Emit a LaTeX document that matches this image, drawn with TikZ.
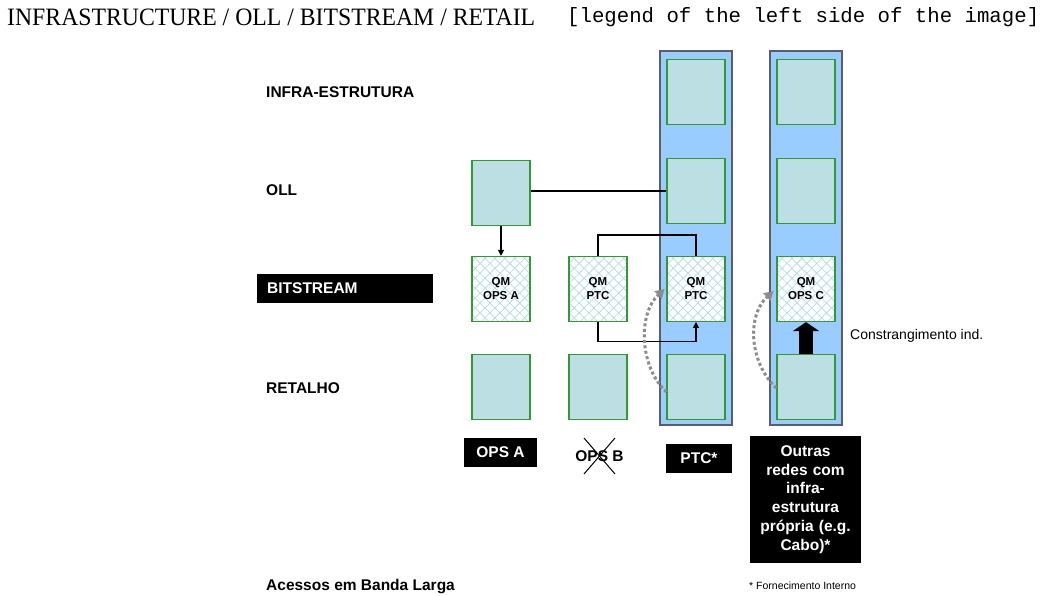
\documentclass[tikz,border=0pt]{standalone}
\usepackage{fontspec}
\setmainfont{Liberation Sans}
\newfontfamily\headfont{Liberation Serif}
\newfontfamily\notefont{Liberation Mono}
\usetikzlibrary{arrows.meta, patterns.meta}
\definecolor{barblue}{HTML}{99CCFF}
\definecolor{barline}{HTML}{5A5F66}
\definecolor{boxfill}{HTML}{BBDFE3}
\definecolor{boxline}{HTML}{339933}
\definecolor{hatch}{HTML}{B8DDE6}
\definecolor{dotgray}{HTML}{8C8C8C}

\begin{document}
\begin{tikzpicture}[x=1pt, y=-1pt,
  sq/.style={rectangle, draw=boxline, line width=1.2pt, minimum width=58pt, minimum height=65pt, inner sep=0pt, align=center, font=\fontsize{11.5}{14}\selectfont\bfseries},
  box/.style={sq, fill=boxfill},
  qm/.style={sq, preaction={fill=white}, preaction={pattern={Lines[angle=45,distance=7pt,line width=0.8pt]}, pattern color=hatch}, pattern={Lines[angle=-45,distance=7pt,line width=0.8pt]}, pattern color=hatch},
  bar/.style={rectangle, draw=barline, line width=1.3pt, fill=barblue, minimum width=72pt, minimum height=374pt, inner sep=0pt},
  lbl/.style={anchor=west, inner sep=0pt, font=\fontsize{15.5}{18}\selectfont\bfseries},
  blk/.style={fill=black, text=white, inner sep=0pt, align=center, font=\fontsize{15.5}{18.8}\selectfont\bfseries},
  conn/.style={line width=1.2pt},
  arr/.style={conn, -{Triangle[width=6pt,length=6pt]}},
  dotarr/.style={draw=dotgray, line width=3pt, dash pattern=on 3pt off 2.5pt, -{Triangle[width=10pt,length=9pt]}},
  bigarr/.style={line width=14pt, -{Triangle[width=26pt,length=9pt]}}
]
\useasboundingbox (0,0) rectangle (1048,595);

\node[anchor=west, inner sep=0pt, font=\headfont\fontsize{25}{28}\selectfont] (head) at (7,17) {\resizebox{528pt}{\height}{INFRASTRUCTURE / OLL / BITSTREAM / RETAIL}};
\node[anchor=west, inner sep=0pt, font=\notefont\fontsize{20.7}{24}\selectfont] (legend) at (567,17) {{[}legend of the left side of the image]};

\node[bar] (barP) at (696,238) {};
\node[bar] (barC) at (806,238) {};

\node[box] (infP) at (696,92) {};
\node[box] (ollP) at (696,191) {};
\node[qm] (qmP) at (696,289) {QM\\PTC};
\node[box] (retP) at (696,387) {};

\node[box] (infC) at (806,92) {};
\node[box] (ollC) at (806,191) {};
\node[qm] (qmC) at (806,289) {QM\\OPS C};
\node[box] (retC) at (806,387) {};

\node[box] (ollA) at (501,193) {};
\node[qm] (qmA) at (501,289) {QM\\OPS A};
\node[box] (retA) at (501,387) {};

\node[qm] (qmB) at (598,289) {QM\\PTC};
\node[box] (retB) at (598,387) {};

\node[lbl] (linf) at (266,92) {INFRA-ESTRUTURA};
\node[lbl] (loll) at (266,190) {OLL};
\node[blk, anchor=west, minimum height=29pt, text width=156pt, align=left, inner xsep=10pt] (lbit) at (257,288.5) {BITSTREAM};
\node[lbl] (lret) at (266,388) {RETALHO};
\node[lbl] (lacc) at (266,587) {Acessos em Banda Larga};

\node[blk, minimum width=73pt, minimum height=29pt] (opsA) at (500.5,452.5) {OPS A};
\node[lbl, anchor=center] (opsB) at (599.5,456) {OPS B};
\node[blk, minimum width=66pt, minimum height=29pt] (ptc) at (699,458.5) {PTC*};
\node[blk, text width=105pt, minimum width=111pt, minimum height=127pt] (outras) at (805.5,499.5) {Outras\\redes com\\infra-\\estrutura\\própria (e.g.\\Cabo)*};

\node[anchor=west, inner sep=0pt, font=\fontsize{14}{16}\selectfont] (constr) at (850,336) {Constrangimento ind.};
\node[anchor=west, inner sep=0pt, font=\fontsize{10.5}{12}\selectfont] (forn) at (749,586) {* Fornecimento Interno};

\draw[conn] (ollP.west) -- (ollP.west -| ollA.east);
\draw[arr] (ollA) -- (qmA);
\draw[conn] (qmB.north) -- ++(0,-21) -| (qmP.north);
\draw[arr] (qmB.south) -- ++(0,19) -| (qmP.south);
\draw[dotarr] ([yshift=-5pt]retP.west) .. controls +(-27,-25) and +(-27,25) .. ([xshift=-2pt]qmP.west);
\draw[dotarr] ([yshift=-1pt]retC.west) .. controls +(-27,-25) and +(-27,25) .. ([xshift=-3pt,yshift=-2pt]qmC.west);
\draw[bigarr] (retC.north) -- (qmC.south);
\draw[line width=1pt] ([shift={(-15.5,-18)}]opsB.center) -- ([shift={(15.5,18)}]opsB.center);
\draw[line width=1pt] ([shift={(15.5,-18)}]opsB.center) -- ([shift={(-15.5,18)}]opsB.center);
\end{tikzpicture}
\end{document}
